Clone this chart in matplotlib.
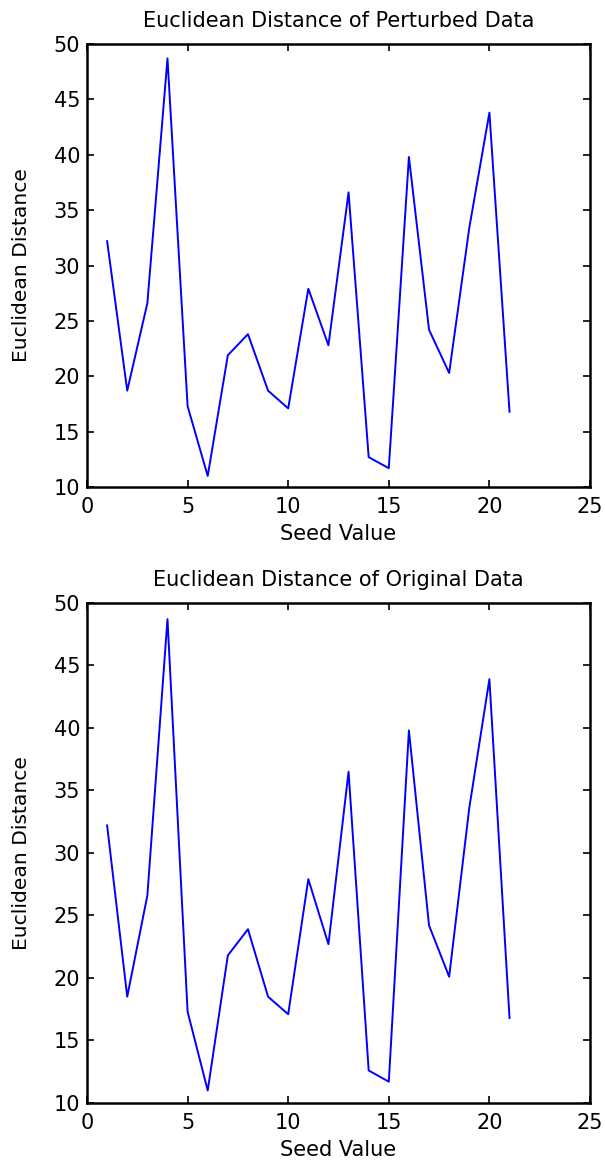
import matplotlib
matplotlib.use('Agg')
import matplotlib.pyplot as plt

# seed values 1..21
seeds = list(range(1, 22))

# Euclidean distance, perturbed data
perturbed = [32.2, 18.7, 26.6, 48.7, 17.3, 11.0, 21.9, 23.8, 18.7, 17.1, 27.9,
             22.8, 36.6, 12.7, 11.7, 39.8, 24.2, 20.3, 33.4, 43.8, 16.8]

# Euclidean distance, original data
original = [32.2, 18.5, 26.6, 48.7, 17.3, 11.0, 21.8, 23.9, 18.5, 17.1, 27.9,
            22.7, 36.5, 12.6, 11.7, 39.8, 24.2, 20.1, 33.6, 43.9, 16.8]

titles = ['Euclidean Distance of Perturbed Data', 'Euclidean Distance of Original Data']
xticks = [0, 5, 10, 15, 20, 25]
yticks = [10, 15, 20, 25, 30, 35, 40, 45, 50]

plt.rcParams['font.family'] = ['DejaVu Sans']

fig = plt.figure(figsize=(6.05, 11.73), dpi=100)
ax1 = fig.add_axes([0.1438, 0.5848, 0.8314, 0.3777])
ax2 = fig.add_axes([0.1438, 0.0597, 0.8314, 0.4263])

for ax, data, title in zip([ax1, ax2], [perturbed, original], titles):
    ax.plot(seeds, data, color='#0000ff', linewidth=1.4)
    ax.set_xlim(0, 25)
    ax.set_ylim(10, 50)
    ax.set_xticks(xticks)
    ax.set_yticks(yticks)
    ax.tick_params(direction='in', top=True, right=True, length=5, width=1.2,
                   labelsize=15)
    ax.tick_params(axis='x', pad=7)
    ax.tick_params(axis='y', pad=5)
    for s in ax.spines.values():
        s.set_linewidth(1.8)
    ax.set_title(title, fontsize=15, pad=12)
    ax.set_xlabel('Seed Value', fontsize=15, labelpad=5)
    ax.set_ylabel('Euclidean Distance', fontsize=14.6, labelpad=16)

fig.savefig('out.png', dpi=100)
